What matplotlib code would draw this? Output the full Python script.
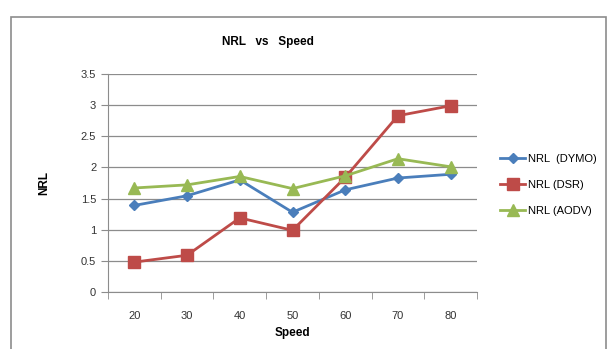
import matplotlib.pyplot as plt
import matplotlib.patches as patches
import numpy as np

# chart data
speeds = ['20', '30', '40', '50', '60', '70', '80']
nrl_dymo = [1.39, 1.545, 1.80, 1.28, 1.64, 1.83, 1.89]
nrl_dsr = [0.48, 0.59, 1.19, 0.99, 1.84, 2.83, 2.99]
nrl_aodv = [1.67, 1.72, 1.855, 1.66, 1.865, 2.14, 2.01]

plt.rcParams['font.family'] = ['Liberation Sans', 'DejaVu Sans']

fig = plt.figure(figsize=(6.08, 3.49), dpi=100)

# outer chart border
fig.patches.append(patches.Rectangle((11/608, -0.05), 595/608, 1.05 - 17/349,
                                     transform=fig.transFigure, fill=False,
                                     edgecolor='#8c8c8c', linewidth=1.2))

ax = fig.add_axes([108/608, 57/349, 369/608, 218/349])
x = np.arange(len(speeds))

ax.plot(x, nrl_dymo, color='#4A7EBB', marker='D', markersize=5, linewidth=2, label='NRL  (DYMO)')
ax.plot(x, nrl_dsr, color='#BE4B48', marker='s', markersize=8, linewidth=2, label='NRL (DSR)')
ax.plot(x, nrl_aodv, color='#98B954', marker='^', markersize=8, linewidth=2, label='NRL (AODV)')

ax.set_xlim(-0.5, len(speeds) - 0.5)
ax.set_ylim(0, 3.5)
ax.set_yticks(np.arange(0, 3.51, 0.5))
ax.set_yticklabels(['0', '0.5', '1', '1.5', '2', '2.5', '3', '3.5'])
ax.set_xticks(x)
ax.set_xticklabels(speeds)
ax.set_xticks(np.arange(-0.5, len(speeds), 1), minor=True)
ax.tick_params(axis='x', which='major', length=0, pad=14, labelsize=8, colors='#333333')
ax.tick_params(axis='x', which='minor', length=5, color='#8c8c8c')
ax.tick_params(axis='y', length=5, color='#8c8c8c', labelsize=8, labelcolor='#333333')

ax.yaxis.grid(True, color='#8c8c8c', linewidth=0.9)
ax.set_axisbelow(True)
for s in ['top', 'right']:
    ax.spines[s].set_visible(False)
ax.spines['left'].set_color('#8c8c8c')
ax.spines['bottom'].set_color('#8c8c8c')

ax.set_xlabel('Speed', fontsize=8.5, fontweight='bold', labelpad=4)
ax.set_ylabel('NRL', fontsize=8.5, fontweight='bold', labelpad=22)
fig.text(268/608, 1 - 42/349, 'NRL   vs   Speed', fontsize=8.5, fontweight='bold',
         ha='center', va='center')

ax.legend(loc='center left', bbox_to_anchor=(1.035, 0.49), frameon=False,
          fontsize=8, handlelength=2.3, handletextpad=0.2, labelspacing=1.45)

fig.savefig('out.png', dpi=100)
